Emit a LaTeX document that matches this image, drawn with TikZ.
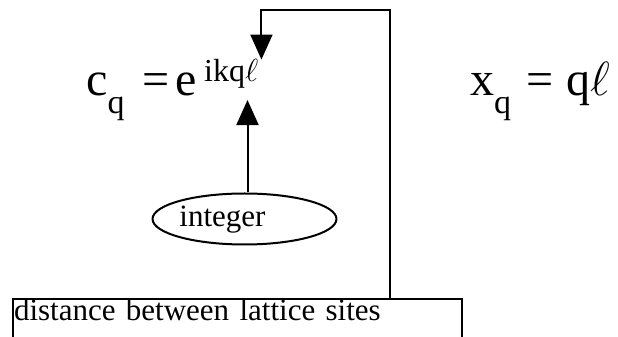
\RequirePackage{fix-cm}
\documentclass[tikz,border=0pt]{standalone}
\usepackage{fontspec}
\setmainfont{Liberation Serif}
\usetikzlibrary{arrows.meta, positioning, shapes.geometric}
\newcommand{\lowsub}[1]{\raisebox{-18pt}{\fontsize{34}{36}\selectfont #1}}
\tikzset{
  big/.style={font=\fontsize{48}{52}\selectfont, inner sep=0pt, anchor=base west},
  small/.style={font=\fontsize{31}{34}\selectfont},
  oval/.style={draw, ellipse, line width=2pt, small, inner sep=0pt,
               minimum width=183pt, minimum height=51pt,
               text height=22pt, text depth=6.6pt},
  labelbox/.style={draw, line width=2pt, small, anchor=north west,
                   text width=447pt, align=left, inner xsep=1pt, inner ysep=0pt,
                   text height=22pt, text depth=40pt},
  arr/.style={-{Triangle[length=25pt, width=22pt]}, line width=2pt},
}

\begin{document}
\begin{tikzpicture}[x=1pt, y=1pt]
\path[use as bounding box, clip] (0,0) rectangle (618,337);

\node[big] (cq) at (86,241) {c\lowsub{q}\hspace{17.7pt}=\hspace{6pt}e};
\node[small, font=\fontsize{32}{34}\selectfont, inner xsep=3pt, inner ysep=0pt,
      anchor=base west] (sup) at (201,255) {ikq$\ell$};
\node[big] (xq) at (470,241)
  {x\lowsub{q}\hspace{15pt}=\hspace{13pt}q$\ell$};

\node[oval] (int) at (244.5,118) {integer\kern44pt};

\node[labelbox] (dist) at (12,39) {distance between lattice sites};

\draw[arr, shorten >=11pt] ([xshift=3pt]int.north)
  -- ([xshift=3pt]int.north |- sup.south);
\draw[arr] ([xshift=378pt]dist.north west) -- ++(0,288) -| (sup.north east);

\end{tikzpicture}
\end{document}
